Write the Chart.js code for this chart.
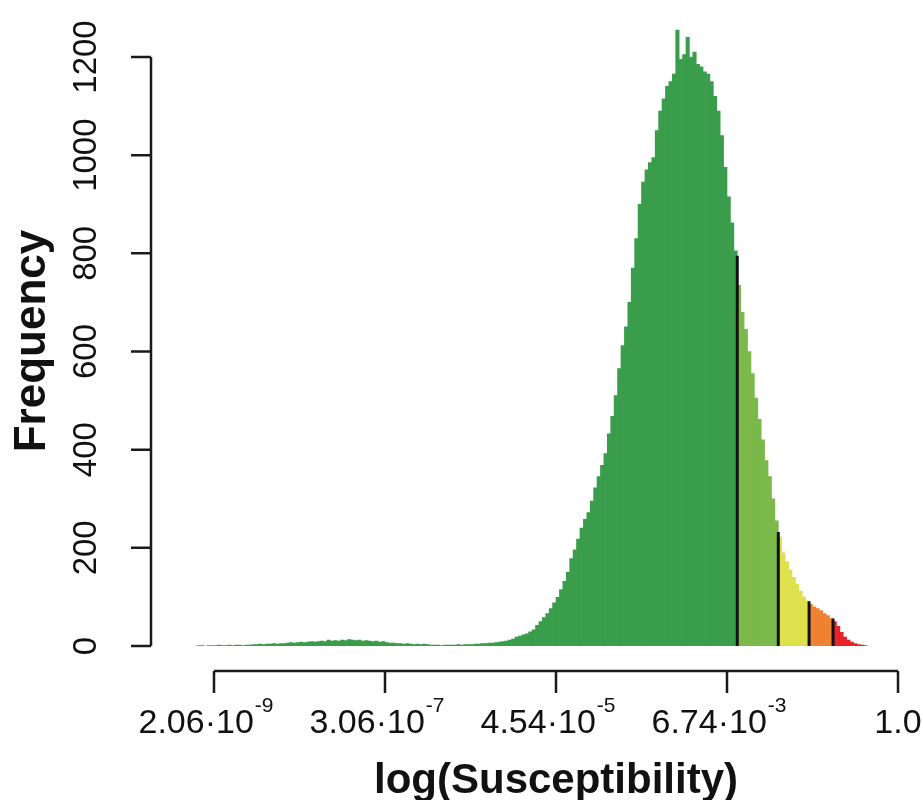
<!DOCTYPE html>
<html>
<head>
<meta charset="utf-8">
<script src="https://cdn.jsdelivr.net/npm/chart.js@4"></script>
<style>
  html, body { margin: 0; padding: 0; background: #fff; }
  #chart { display: block; }
</style>
</head>
<body>
<canvas id="chart" width="923" height="800"></canvas>
<script>
// histogram bins over ln(susceptibility)
const binStart = -20.5
const binWidth = 0.1
const counts = [
  1, 1, 0, 1, 1, 1, 2, 1, 1, 2, 1, 2, 2, 1, 2, 2, 3,
  3, 4, 3, 4, 4, 5, 4, 5, 5, 6, 7, 6, 7,
  8, 7, 8, 9, 8, 9, 10, 9, 12, 10, 11, 10, 12, 11, 13,
  12, 11, 12, 10, 11, 10, 9, 10, 8, 9, 7, 6, 6, 5, 5,
  4, 5, 4, 3, 4, 3, 4, 3, 2, 2, 2, 1, 2, 2, 2,
  2, 3, 2, 3, 3, 3, 4, 4, 5, 5, 6, 6, 7, 8,
  9, 10, 12, 14, 18, 20, 23, 25, 29, 33,
  42, 50, 58, 66, 76, 88, 99, 115, 132, 150,
  178, 196, 218, 240, 258, 272, 295, 322, 345, 368,
  392, 432, 468, 510, 565, 612, 650, 700, 770, 830,
  900, 945, 970, 985, 995, 1050, 1090, 1115, 1140, 1150,
  1165, 1255, 1195, 1205, 1240, 1200, 1210, 1185, 1180, 1170,
  1165, 1150, 1120, 1090, 1040, 975, 915, 862, 805,
  735, 680, 645, 600, 555, 505, 462, 420, 378, 345, 300, 255,
  222, 190, 172, 155, 140, 126, 112, 100, 92,
  85, 80, 76, 72, 66, 62, 56,
  50, 40, 28, 18, 12, 8, 5, 3, 2, 1
]

// class boundaries and the height of the black marker at each
const cutoffs = [-4.7, -3.5, -2.6, -1.9]
const cutoffHeights = [795, 232, 91, 56]
const classColors = ["#3a9d4b", "#7ab94a", "#dde24c", "#ee8232", "#e8232b"]

const yTicks = [0, 200, 400, 600, 800, 1000, 1200]
const xTicks = [-20, -15, -10, -5, 0]
const xTickMantissa = ["2.06", "3.06", "4.54", "6.74", "1.0"]
const xTickExponent = ["-9", "-7", "-5", "-3", ""]

const FONT = "'Liberation Sans', Arial, Helvetica, sans-serif"

const binCenters = counts.map((_, i) => binStart + binWidth * (i + 0.5))
const barColors = binCenters.map(c => classColors[cutoffs.filter(k => c > k).length])

const cutoffSets = cutoffs.map((c, i) => ({
  type: "line",
  data: [{ x: c, y: 0 }, { x: c, y: cutoffHeights[i] }],
  borderColor: "#111",
  borderWidth: 3,
  pointRadius: 0,
  order: 0
}))

// R-style detached axes
const rAxes = {
  id: "rAxes",
  afterDraw(chart) {
    const { ctx, scales: { x, y } } = chart
    ctx.save()
    ctx.strokeStyle = "#1a1a1a"
    ctx.fillStyle = "#111"
    ctx.lineWidth = 2.5

    const ax = 151
    ctx.beginPath()
    ctx.moveTo(ax, y.getPixelForValue(yTicks[0]))
    ctx.lineTo(ax, y.getPixelForValue(yTicks[yTicks.length - 1]))
    yTicks.forEach(v => {
      const p = y.getPixelForValue(v)
      ctx.moveTo(ax, p)
      ctx.lineTo(ax - 20, p)
    })
    const ay = 671
    ctx.moveTo(x.getPixelForValue(xTicks[0]), ay)
    ctx.lineTo(x.getPixelForValue(xTicks[xTicks.length - 1]), ay)
    xTicks.forEach(v => {
      const p = x.getPixelForValue(v)
      ctx.moveTo(p, ay)
      ctx.lineTo(p, ay + 22)
    })
    ctx.stroke()

    // y tick labels, rotated
    ctx.font = "33px " + FONT
    ctx.textAlign = "center"
    ctx.textBaseline = "alphabetic"
    yTicks.forEach(v => {
      ctx.save()
      ctx.translate(96, y.getPixelForValue(v))
      ctx.rotate(-Math.PI / 2)
      ctx.fillText(String(v), 0, 0)
      ctx.restore()
    })

    // x tick labels with superscript exponent
    ctx.textAlign = "left"
    xTicks.forEach((v, i) => {
      const p = x.getPixelForValue(v)
      const exp = xTickExponent[i]
      const main = xTickMantissa[i] + (exp ? "\u00b710" : "")
      ctx.font = "34px " + FONT
      const wm = ctx.measureText(main).width
      ctx.font = "21px " + FONT
      const we = exp ? ctx.measureText(exp).width + 1 : 0
      const left = p - (wm + we) / 2 - (exp ? 8 : 0)
      ctx.font = "34px " + FONT
      ctx.fillText(main, left, 733)
      if (exp) {
        ctx.font = "21px " + FONT
        ctx.fillText(exp, left + wm + 1, 712)
      }
    })

    // axis titles
    ctx.font = "bold 42px " + FONT
    ctx.textAlign = "center"
    ctx.fillText("log(Susceptibility)", 556, 793)
    ctx.save()
    ctx.translate(45, 341)
    ctx.rotate(-Math.PI / 2)
    ctx.font = "bold 44px " + FONT
    ctx.fillText("Frequency", 0, 0)
    ctx.restore()

    ctx.restore()
  }
}

new Chart(document.getElementById("chart"), {
  type: "bar",
  data: {
    datasets: [
      {
        type: "bar",
        data: counts.map((v, i) => ({ x: binCenters[i], y: v })),
        backgroundColor: barColors,
        borderWidth: 0,
        barPercentage: 1,
        categoryPercentage: 1,
        order: 1
      },
      ...cutoffSets
    ]
  },
  options: {
    responsive: false,
    animation: false,
    layout: { padding: { left: 179.8, right: 7.9, top: 7.9, bottom: 154 } },
    scales: {
      x: { type: "linear", min: -21, max: 0.5, offset: false, display: false },
      y: { type: "linear", min: 0, max: 1300, display: false }
    },
    plugins: {
      legend: { display: false },
      tooltip: { enabled: false }
    }
  },
  plugins: [rAxes]
})
</script>
</body>
</html>
